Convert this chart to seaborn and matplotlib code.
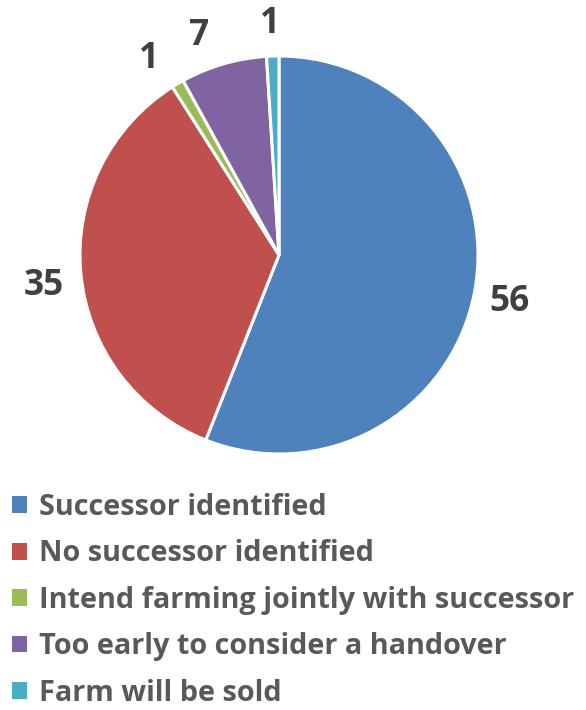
import matplotlib
matplotlib.use("Agg")
import matplotlib.pyplot as plt
import seaborn as sns
import numpy as np
from matplotlib.patches import Patch

categories = ["Successor identified", "No successor identified",
              "Intend farming jointly with successor",
              "Too early to consider a handover", "Farm will be sold"]
values = [56, 35, 1, 7, 1]
colors = ["#4F81BD", "#C0504D", "#9BBB59", "#8064A2", "#4BACC6"]

sns.set_theme(style="white")
FAM = ['Open Sans', 'DejaVu Sans']
plt.rcParams['font.family'] = FAM

W, H = 586, 710
fig = plt.figure(figsize=(W / 100, H / 100), dpi=100)
ax = fig.add_axes([0, 0, 1, 1])

cx, cy, R = 279, H - 255, 199
wedges, _ = ax.pie(values, colors=colors, startangle=90, counterclock=False,
                   center=(cx, cy), radius=R,
                   wedgeprops=dict(edgecolor="white", linewidth=2.2))
ax.set_xlim(0, W)
ax.set_ylim(0, H)
ax.set_aspect("equal")
ax.axis("off")

# scale legend font so the longest entry spans ~536 px
renderer = fig.canvas.get_renderer()
probe = fig.text(0, 0, categories[2], fontsize=20, fontweight="bold", family=FAM)
wpx = probe.get_window_extent(renderer).width
probe.remove()
fs = 20 * 536 / wpx
fs_px = fs * 100 / 72

label_pos = [(-11.5, 1.18), (187.5, 1.19), (123.5, 1.18), (110.0, 1.17), (92.2, 1.16)]
for v, (ang, rf) in zip(values, label_pos):
    a = np.deg2rad(ang)
    ax.text(cx + rf * R * np.cos(a), cy + rf * R * np.sin(a), str(v),
            ha="center", va="center", fontsize=fs * 1.22, fontweight="bold",
            color="#404040")

hl = 15 / fs_px
handles = [Patch(facecolor=c, edgecolor="none") for c in colors]
leg = fig.legend(handles, categories, loc="upper left",
                 bbox_to_anchor=(12 / W, 1 - 493 / H), frameon=False,
                 prop=dict(family=FAM, weight="bold", size=fs),
                 handlelength=hl, handleheight=hl, handletextpad=12 / fs_px,
                 labelspacing=0.5 + 3 / fs_px, borderpad=0, borderaxespad=0)
for t in leg.get_texts():
    t.set_color("#595959")

fig.savefig("out.png", dpi=100)
